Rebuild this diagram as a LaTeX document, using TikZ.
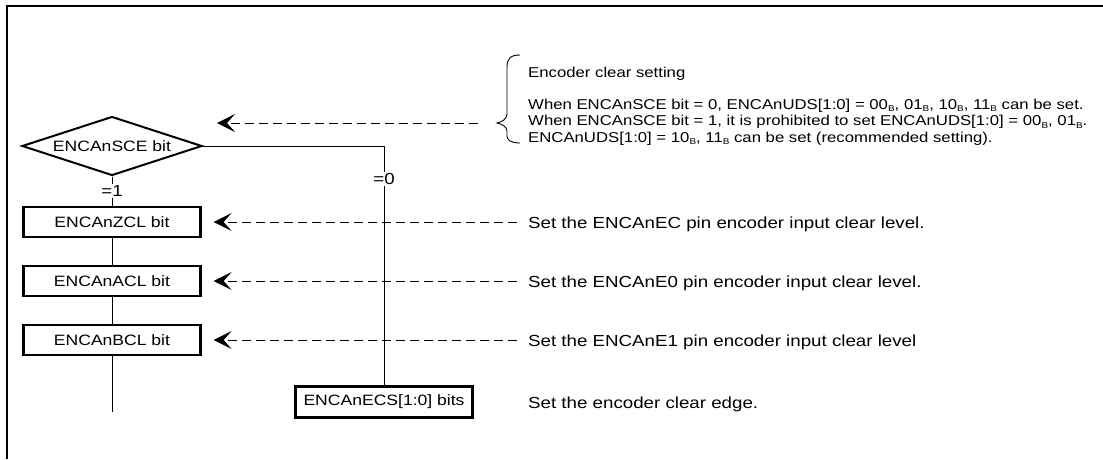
\documentclass[tikz,border=0pt]{standalone}
\usepackage{fontspec}
\setmainfont[FakeStretch=1.17]{Liberation Sans}
\usetikzlibrary{shapes.geometric,arrows.meta}
\newcommand\Bs{\raisebox{-0.2em}{\fontsize{8.5}{8.5}\selectfont B}}
\begin{document}
\begin{tikzpicture}[x=1pt,y=-1pt,
  every node/.style={font=\fontsize{15}{16.5}\selectfont},
  frameline/.style={line width=2.5pt},
  box/.style={draw,line width=2.2pt,rectangle,minimum width=177pt,minimum height=30pt,inner sep=0pt},
  dia/.style={draw,line width=2pt,diamond,shape aspect=3,minimum width=180pt,minimum height=59pt,inner sep=0pt},
  conn/.style={line width=0.9pt},
  lbl/.style={fill=white,inner sep=1.5pt,font=\fontsize{16}{17}\selectfont},
  dasharrow/.style={line width=0.9pt,dash pattern=on 9pt off 5pt,-{Stealth[length=18pt,width=18pt,inset=8pt]}},
  rt/.style={anchor=base west,inner sep=0pt,font=\fontsize{16}{17}\selectfont},
  tb/.style={anchor=base west,inner sep=0pt,font=\fontsize{14.3}{15.5}\selectfont},
  bracestyle/.style={line width=0.9pt}]
\useasboundingbox (0,0) rectangle (1103,459);
% frame
\draw[frameline] (7,459) -- (7,6) -- (1103,6);
% flow nodes
\node[dia] (sce) at (112,146) {ENCAnSCE bit};
\node[box] (zcl) at (112,222) {ENCAnZCL bit};
\node[box] (acl) at (112,281) {ENCAnACL bit};
\node[box] (bcl) at (112,340) {ENCAnBCL bit};
\node[box,minimum height=31pt] (ecs) at (384,402) {ENCAnECS[1:0] bits};
\coordinate (lend) at (112,412);
\coordinate (corner) at (384,146);
% flow lines
\draw[conn] (sce.south) -- node[lbl] {=1} (zcl.north);
\draw[conn] (zcl.south) -- (acl.north);
\draw[conn] (acl.south) -- (bcl.north);
\draw[conn] (bcl.south) -- (lend);
\draw[conn] (sce.east) -- (corner) -- node[lbl,pos=0.137] {=0} (ecs.north);
% brace
\coordinate (btip) at (497,123);
\draw[bracestyle] (520,55) .. controls (510,55) and (507,59) .. (507,67) -- (507,114)
  .. controls (507,119) and (502,122) .. (btip)
  .. controls (502,124) and (507,127) .. (507,131) -- (507,136)
  .. controls (507,140) and (511,143) .. (520,143);
% top text block
\node[tb] (h0) at (528,77) {Encoder clear setting};
\node[tb] (h1) at (528,109) {When ENCAnSCE bit = 0, ENCAnUDS[1:0] = 00\Bs, 01\Bs, 10\Bs, 11\Bs\ can be set.};
\node[tb] (h2) at (528,125.5) {When ENCAnSCE bit = 1, it is prohibited to set ENCAnUDS[1:0] = 00\Bs, 01\Bs.};
\node[tb] (h3) at (528,142) {ENCAnUDS[1:0] = 10\Bs, 11\Bs\ can be set (recommended setting).};
% right texts
\node[rt] (t1) at (528,228) {Set the ENCAnEC pin encoder input clear level.};
\node[rt] (t2) at (528,287) {Set the ENCAnE0 pin encoder input clear level.};
\node[rt] (t3) at (528,346) {Set the ENCAnE1 pin encoder input clear level};
\node[rt] (t4) at (528,408) {Set the encoder clear edge.};
% dashed arrows
\coordinate (tiptop) at (217,123);
\coordinate (d1) at (517,222);
\coordinate (d2) at (517,281);
\coordinate (d3) at (517,340);
\draw[dasharrow,shorten <=19pt] (btip) -- (tiptop);
\draw[dasharrow,shorten >=12pt] (d1) -- (zcl.east);
\draw[dasharrow,shorten >=12pt] (d2) -- (acl.east);
\draw[dasharrow,shorten >=12pt] (d3) -- (bcl.east);
\end{tikzpicture}
\end{document}
